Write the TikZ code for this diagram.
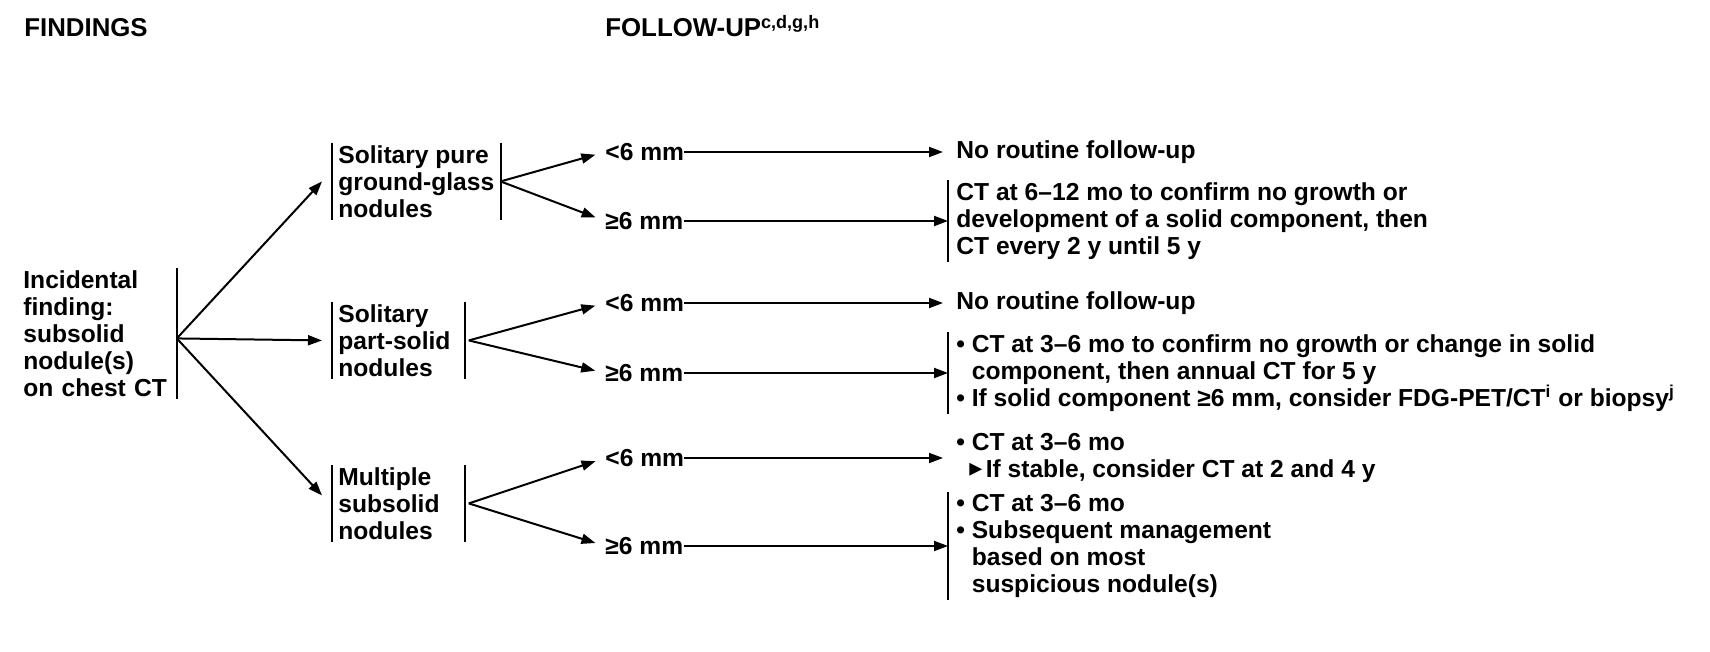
\documentclass[tikz,border=0pt]{standalone}
\usepackage{fontspec}
\setmainfont{Liberation Sans}
\newfontfamily\trifont{DejaVu Sans}
\usepackage{tikz}
\usetikzlibrary{arrows.meta}
\definecolor{ink}{HTML}{000000}
\newcommand\bul{•\ }
\newcommand\bulgap{\hphantom{•\ }}
\newcommand\subtri{\rlap{\hspace{6.5pt}\raisebox{0.4pt}{\trifont\fontsize{13pt}{13pt}\selectfont ▸}}\bulgap\hspace{7pt}}
\tikzset{
  lbl/.style={font=\fontsize{12.3pt}{13.5pt}\selectfont\bfseries, text=ink, inner sep=0pt},
  head/.style={lbl, font=\fontsize{12.9pt}{13.5pt}\selectfont\bfseries, anchor=base west},
  grp/.style={lbl, align=left, inner xsep=3pt, inner ysep=1pt, anchor=north west},
  res/.style={lbl, align=left, inner xsep=4pt, inner ysep=1pt, anchor=west},
  mmlbl/.style={lbl, anchor=west},
  vbar/.style={draw=ink, line width=1pt},
  arr/.style={draw=ink, line width=1pt, -{Triangle[length=7pt,width=5pt]}},
}

\begin{document}
\begin{tikzpicture}[x=0.5pt,y=-0.5pt]
  \useasboundingbox (0,0) rectangle (1710,652);

  % headings
  \node[head] (hfind) at (24,37) {FINDINGS};
  \node[head] (hfoll) at (605,37) {FOLLOW-UP\textsuperscript{c,d,g,h}};

  % finding and nodule types
  \node[grp,text width=73.5pt] (inc) at (17,268) {Incidental\\finding:\\subsolid\\nodule(s)\\on chest CT};
  \node[grp] (b1) at (332,143) {Solitary pure\\ground-glass\\nodules};
  \node[grp,text width=60pt] (b2) at (332,302) {Solitary\\part-solid\\nodules};
  \node[grp,text width=60pt] (b3) at (332,465) {Multiple\\subsolid\\nodules};

  % size classes
  \node[mmlbl] (lt1) at (605,152) {<6 mm};
  \node[mmlbl] (ge1) at (605,221) {≥6 mm};
  \node[mmlbl] (lt2) at (605,303) {<6 mm};
  \node[mmlbl] (ge2) at (605,373) {≥6 mm};
  \node[mmlbl] (lt3) at (605,458) {<6 mm};
  \node[mmlbl] (ge3) at (605,546) {≥6 mm};

  % follow-up column
  \coordinate (col) at (948,0);
  \node[res] (r1a) at (lt1.east -| col) {No routine follow-up};
  \node[res] (r1b) at (ge1.east -| col) {CT at 6–12 mo to confirm no growth or\\development of a solid component, then\\CT every 2 y until 5 y};
  \node[res] (r2a) at (lt2.east -| col) {No routine follow-up};
  \node[res] (r2b) at (ge2.east -| col) {\bul CT at 3–6 mo to confirm no growth or change in solid\\\bulgap component, then annual CT for 5 y\\\bul If solid component ≥6 mm, consider FDG-PET/CT\textsuperscript{i} or biopsy\textsuperscript{j}};
  \node[res] (r3a) at (lt3.east -| col) {\bul CT at 3–6 mo\\\subtri If stable, consider CT at 2 and 4 y};
  \node[res] (r3b) at (ge3.east -| col) {\bul CT at 3–6 mo\\\bul Subsequent management\\\bulgap based on most\\\bulgap suspicious nodule(s)};

  % bars
  \draw[vbar] (inc.north east) -- (inc.south east);
  \foreach \b in {b1,b2,b3} {
    \draw[vbar] (\b.north west) -- (\b.south west);
    \draw[vbar] (\b.north east) -- (\b.south east);
  }
  \foreach \r in {r1b,r2b,r3b}
    \draw[vbar] (\r.north west) -- (\r.south west);

  % connectors
  \coordinate (fork) at ([yshift=-2.5pt]inc.east);
  \draw[arr] (fork) -- ([xshift=-5pt]b1.west);
  \draw[arr] (fork) -- ([xshift=-5pt]b2.west);
  \draw[arr] (fork) -- ([xshift=-5pt,yshift=4pt]b3.west);

  \draw[arr,shorten >=5pt] (b1.east) -- (lt1.west);
  \draw[arr,shorten >=5pt] (b1.east) -- (ge1.west);
  \draw[arr,shorten >=5pt] ([xshift=2pt]b2.east) -- (lt2.west);
  \draw[arr,shorten >=5pt] ([xshift=2pt]b2.east) -- (ge2.west);
  \draw[arr,shorten >=5pt] ([xshift=2pt]b3.east) -- (lt3.west);
  \draw[arr,shorten >=5pt] ([xshift=2pt]b3.east) -- (ge3.west);

  \draw[arr,shorten >=2.5pt] (lt1.east) -- (r1a.west);
  \draw[arr] (ge1.east) -- (r1b.west);
  \draw[arr,shorten >=2.5pt] (lt2.east) -- (r2a.west);
  \draw[arr] (ge2.east) -- (r2b.west);
  \draw[arr,shorten >=2.5pt] (lt3.east) -- (r3a.west);
  \draw[arr] (ge3.east) -- (r3b.west);
\end{tikzpicture}
\end{document}
